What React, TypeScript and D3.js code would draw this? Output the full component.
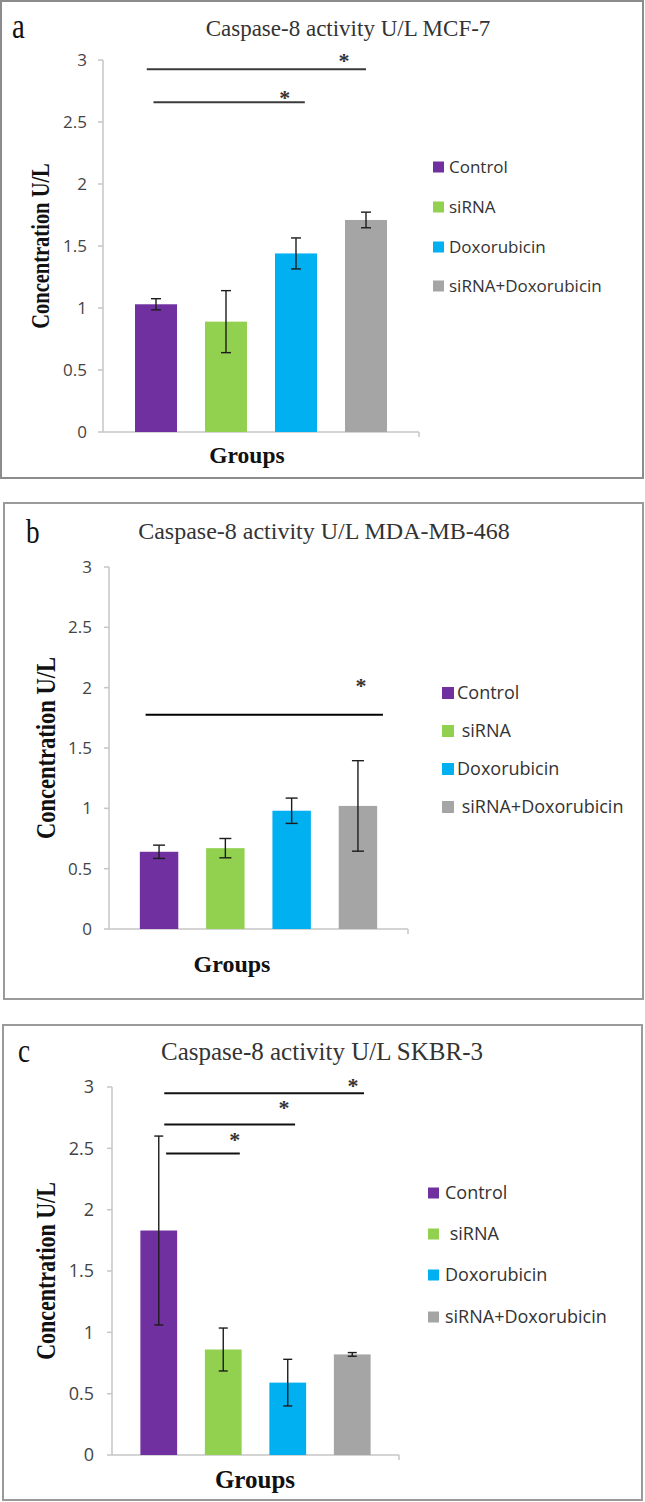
import React from 'react';
import * as d3 from 'd3';

// ---------- data ----------
const categories = ['Control', 'siRNA', 'Doxorubicin', 'siRNA+Doxorubicin'];
const barColors = ['#7030A0', '#92D050', '#00B0F0', '#A5A5A5'];
const yTicks = [0, 0.5, 1, 1.5, 2, 2.5, 3];
const yTickLabels = ['0', '0.5', '1', '1.5', '2', '2.5', '3'];

const titleA = 'Caspase-8 activity U/L MCF-7';
const titleB = 'Caspase-8 activity U/L MDA-MB-468';
const titleC = 'Caspase-8 activity U/L SKBR-3';
const yAxisTitle = 'Concentration U/L';
const xAxisTitle = 'Groups';

const meansA = [1.03, 0.89, 1.44, 1.71];
const errA = [0.045, 0.25, 0.125, 0.063];
const meansB = [0.64, 0.67, 0.98, 1.02];
const errB = [0.055, 0.08, 0.105, 0.375];
const meansC = [1.83, 0.86, 0.59, 0.82];
const errC = [0.77, 0.175, 0.19, 0.015];

const legendA = ['Control', 'siRNA', 'Doxorubicin', 'siRNA+Doxorubicin'];
const legendB = ['Control', ' siRNA', 'Doxorubicin', ' siRNA+Doxorubicin'];
const legendC = ['Control', ' siRNA', 'Doxorubicin', 'siRNA+Doxorubicin'];

// significance brackets: from group, to group, level (U/L)
const sigFromA = ['Control', 'Control'];
const sigToA = ['siRNA+Doxorubicin', 'Doxorubicin'];
const sigLevelA = [2.925, 2.66];
const sigFromB = ['Control'];
const sigToB = ['siRNA+Doxorubicin'];
const sigLevelB = [1.775];
const sigFromC = ['Control', 'Control', 'Control'];
const sigToC = ['siRNA+Doxorubicin', 'Doxorubicin', 'siRNA'];
const sigLevelC = [2.95, 2.695, 2.457];

// ---------- layout ----------
const layoutA = {
  frame: { x: 1, y: 1, w: 642, h: 477, stroke: '#8c8c8c' },
  x0: 103, x1: 419, yBottom: 432, yTop: 60, padIn: 0.4, padOut: 0.457,
  tickRight: 87, tickSize: 17,
  letter: { x: 12, y: 38, size: 36 }, title: { x: 348, y: 36, size: 23 },
  yLab: { x: 49, y: 246, size: 20.5 }, xLab: { x: 247, y: 463, size: 23.5 },
  legend: { sqX: 433, txX: 449, ys: [167, 207, 247, 286], size: 17, sq: 11 },
  cap: 10,
  sig: [
    { f1: 0.28, f2: 0.5, sdx: -22, sdy: -11 },
    { f1: 0.44, f2: 0.71, sdx: -20, sdy: -7 },
  ],
  sigColor: '#3a3a3a',
};
const layoutB = {
  frame: { x: 4, y: 503, w: 639, h: 496, stroke: '#9a9a9a' },
  x0: 109, x1: 408, yBottom: 929, yTop: 567, padIn: 0.42, padOut: 0.465,
  tickRight: 92, tickSize: 17,
  letter: { x: 26, y: 543, size: 34 }, title: { x: 324, y: 539, size: 24 },
  yLab: { x: 55, y: 748, size: 22.5 }, xLab: { x: 232, y: 972, size: 24 },
  legend: { sqX: 442, txX: 457, ys: [693, 731, 769, 807], size: 18, sq: 12 },
  cap: 12,
  sig: [{ f1: 0.15, f2: 1.15, sdx: -22, sdy: -32 }],
  sigColor: '#000000',
};
const layoutC = {
  frame: { x: 3, y: 1025, w: 639, h: 475, stroke: '#9a9a9a' },
  x0: 112, x1: 399, yBottom: 1455, yTop: 1087, padIn: 0.43, padOut: 0.44,
  tickRight: 94, tickSize: 18,
  letter: { x: 18, y: 1062, size: 34 }, title: { x: 322, y: 1060, size: 25 },
  yLab: { x: 55, y: 1271, size: 22 }, xLab: { x: 255, y: 1488, size: 25 },
  legend: { sqX: 428, txX: 445, ys: [1193, 1234, 1275, 1317], size: 18, sq: 11 },
  cap: 9,
  sig: [
    { f1: 0.65, f2: 0.82, sdx: -11, sdy: -10 },
    { f1: 0.65, f2: 0.7, sdx: -11, sdy: -19 },
    { f1: 0.7, f2: 0.95, sdx: -5, sdy: -17 },
  ],
  sigColor: '#111111',
};

type PanelProps = {
  L: any; letter: string; title: string; means: number[]; errs: number[];
  legend: string[]; sigFrom: string[]; sigTo: string[]; sigLevel: number[];
};

function Panel({ L, letter, title, means, errs, legend, sigFrom, sigTo, sigLevel }: PanelProps) {
  const x = d3.scaleBand<string>().domain(categories).range([L.x0, L.x1])
    .paddingInner(L.padIn).paddingOuter(L.padOut);
  const y = d3.scaleLinear().domain([0, 3]).range([L.yBottom, L.yTop]);
  const bw = x.bandwidth();
  const sans = "'Open Sans', 'Noto Sans', sans-serif";
  const serif = "'Liberation Serif', 'Times New Roman', serif";
  return (
    <g>
      <rect x={L.frame.x} y={L.frame.y} width={L.frame.w} height={L.frame.h}
        fill="white" stroke={L.frame.stroke} strokeWidth={2} />
      <text x={L.letter.x} y={L.letter.y} fontFamily={serif} fontSize={L.letter.size}
        fill="#111" transform={`translate(${L.letter.x},0) scale(0.8,1) translate(${-L.letter.x},0)`}>{letter}</text>
      <text x={L.title.x} y={L.title.y} fontFamily={serif} fontSize={L.title.size}
        textAnchor="middle" fill="#333">{title}</text>
      {/* axes */}
      <line x1={L.x0} x2={L.x0} y1={y(0)} y2={y(3)} stroke="#c6c6c6" strokeWidth={1.5} />
      <line x1={L.x0} x2={L.x1} y1={y(0)} y2={y(0)} stroke="#c6c6c6" strokeWidth={1.5} />
      <line x1={L.x1} x2={L.x1} y1={y(0)} y2={y(0) + 5} stroke="#c6c6c6" strokeWidth={1.5} />
      {yTicks.map((t, i) => (
        <g key={t}>
          <line x1={L.x0 - 5} x2={L.x0} y1={y(t)} y2={y(t)} stroke="#c6c6c6" strokeWidth={1.5} />
          <text x={L.tickRight} y={y(t)} dy="0.35em" textAnchor="end" fontFamily={sans}
            fontSize={L.tickSize} fill="#444">{yTickLabels[i]}</text>
        </g>
      ))}
      {/* bars */}
      {categories.map((c, i) => (
        <rect key={c} x={x(c)} y={y(means[i])} width={bw} height={y(0) - y(means[i])} fill={barColors[i]} />
      ))}
      {/* error bars */}
      {categories.map((c, i) => {
        const cx = (x(c) as number) + bw / 2;
        const hi = y(means[i] + errs[i]);
        const lo = y(means[i] - errs[i]);
        return (
          <g key={c} stroke="#1c1c1c" strokeWidth={1.4}>
            <line x1={cx} x2={cx} y1={hi} y2={lo} />
            <line x1={cx - L.cap / 2} x2={cx + L.cap / 2} y1={hi} y2={hi} />
            <line x1={cx - L.cap / 2} x2={cx + L.cap / 2} y1={lo} y2={lo} />
          </g>
        );
      })}
      {/* significance */}
      {sigLevel.map((lv, i) => {
        const s = L.sig[i];
        const xa = (x(sigFrom[i]) as number) + s.f1 * bw;
        const xb = (x(sigTo[i]) as number) + s.f2 * bw;
        const yy = y(lv);
        return (
          <g key={i}>
            <line x1={xa} x2={xb} y1={yy} y2={yy} stroke={L.sigColor} strokeWidth={2} />
            <text x={xb + s.sdx} y={yy + s.sdy + 10} textAnchor="middle" fontFamily={serif}
              fontWeight="bold" fontSize={22} fill="#333">*</text>
          </g>
        );
      })}
      {/* axis titles */}
      <text transform={`translate(${L.yLab.x},${L.yLab.y}) rotate(-90) scale(1,1.25)`} textAnchor="middle"
        fontFamily={serif} fontWeight="bold" fontSize={L.yLab.size} fill="#111">{yAxisTitle}</text>
      <text x={L.xLab.x} y={L.xLab.y} textAnchor="middle" fontFamily={serif} fontWeight="bold"
        fontSize={L.xLab.size} fill="#111">{xAxisTitle}</text>
      {/* legend */}
      {legend.map((lab, i) => (
        <g key={i}>
          <rect x={L.legend.sqX} y={L.legend.ys[i] - L.legend.sq / 2} width={L.legend.sq}
            height={L.legend.sq} fill={barColors[i]} />
          <text x={L.legend.txX} y={L.legend.ys[i]} dy="0.36em" fontFamily={sans}
            fontSize={L.legend.size} fill="#333" style={{ whiteSpace: 'pre' }}>{lab}</text>
        </g>
      ))}
    </g>
  );
}

export default function App() {
  return (
    <div style={{ position: 'absolute', left: 0, top: 0 }}>
      <svg width={645} height={1502} style={{ display: 'block', background: 'white' }}>
        <Panel L={layoutA} letter="a" title={titleA} means={meansA} errs={errA} legend={legendA}
          sigFrom={sigFromA} sigTo={sigToA} sigLevel={sigLevelA} />
        <Panel L={layoutB} letter="b" title={titleB} means={meansB} errs={errB} legend={legendB}
          sigFrom={sigFromB} sigTo={sigToB} sigLevel={sigLevelB} />
        <Panel L={layoutC} letter="c" title={titleC} means={meansC} errs={errC} legend={legendC}
          sigFrom={sigFromC} sigTo={sigToC} sigLevel={sigLevelC} />
      </svg>
    </div>
  );
}
